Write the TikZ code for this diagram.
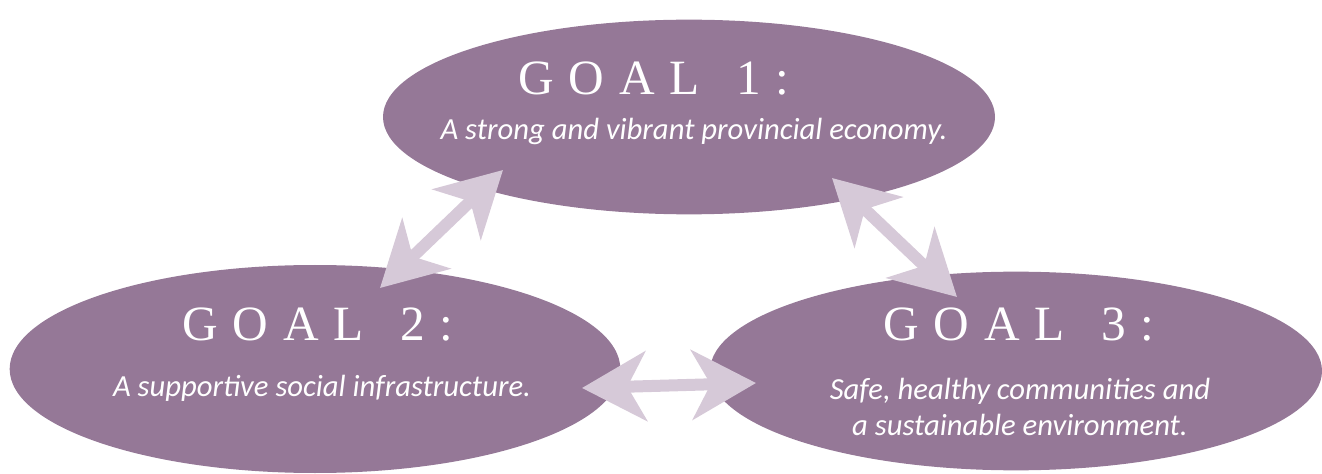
\documentclass[tikz,border=0pt]{standalone}
\usepackage{fontspec}
\usetikzlibrary{arrows.meta,shapes.geometric}
\newfontfamily\titlefont[LetterSpace=30]{Liberation Serif}
\newfontfamily\subfont{Carlito}
\definecolor{goalpurple}{HTML}{957897}
\definecolor{arrowlilac}{HTML}{D6C9D8}
\tikzset{
  goal/.style={ellipse, fill=goalpurple, draw=none, inner sep=0pt},
  goaltitle/.style={text=white, font=\titlefont\fontsize{37}{40}\selectfont, inner sep=0pt},
  goalsub/.style={text=white, font=\subfont\itshape\fontsize{23}{27}\selectfont, inner sep=0pt, align=center},
  biarrow/.style={draw=arrowlilac, line width=9pt,
    {Stealth[length=48pt,width=52pt,inset=14pt,fill=arrowlilac]}-{Stealth[length=48pt,width=52pt,inset=14pt,fill=arrowlilac]}}
}
\begin{document}
\begin{tikzpicture}[x=0.75pt,y=-0.75pt]
\useasboundingbox (0,0) rectangle (1322,474);
% ellipses
\node[goal, minimum width=459pt, minimum height=146pt] (g1) at (689,117) {};
\node[goal, minimum width=458pt, minimum height=156pt] (g2) at (315,369) {};
\node[goal, minimum width=459pt, minimum height=149pt] (g3) at (1016,371) {};
% titles
\node[goaltitle] (t1) at (654,79) {GOAL\hspace{7pt} 1:};
\node[goalsub] (s1) at (694,131) {A strong and vibrant provincial economy.};
\node[goaltitle] (t2) at (318,325) {GOAL\hspace{7pt} 2:};
\node[goalsub] (s2) at (322,388) {A supportive social infrastructure.};
\node[goaltitle] (t3) at (1019,325) {GOAL\hspace{7pt} 3:};
\node[goalsub] (s3) at (1020,407) {Safe, healthy communities and\\a sustainable environment.};
% arrow end points
\coordinate (a1a) at (380,288);
\coordinate (a1b) at (503,170);
\coordinate (a2a) at (832,178);
\coordinate (a2b) at (957,297);
\coordinate (a3a) at (582,388);
\coordinate (a3b) at (756,383);
\draw[biarrow] (a1a) -- (a1b);
\draw[biarrow] (a2a) -- (a2b);
\draw[biarrow] (a3a) -- (a3b);
\end{tikzpicture}
\end{document}
